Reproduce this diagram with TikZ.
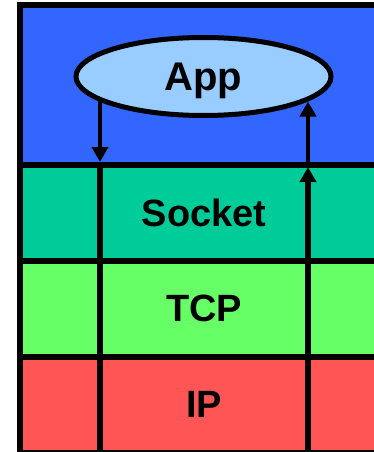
\documentclass[tikz,border=0pt]{standalone}
\usepackage{fontspec}
\setmainfont{Liberation Sans}
\usepackage{tikz}
\usetikzlibrary{arrows.meta}
\usetikzlibrary{shapes.geometric}
\definecolor{appblue}{RGB}{51,102,255}
\definecolor{applight}{RGB}{153,204,255}
\definecolor{sockgreen}{RGB}{0,204,153}
\definecolor{tcpgreen}{RGB}{102,255,102}
\definecolor{ipred}{RGB}{255,85,85}
\begin{document}
\begin{tikzpicture}[x=1pt, y=-1pt]
\tikzstyle{layer}=[draw, line width=6pt, minimum width=368pt, inner sep=0pt, font=\fontsize{38}{40}\selectfont\bfseries]
\tikzstyle{flow}=[line width=4.5pt, -{Triangle[width=16pt, length=15pt]}]
\useasboundingbox (0,0) rectangle (374,452);
\clip (0,0) rectangle (374,452);
\node[layer, fill=appblue, minimum height=160pt] (top) at (204,84.6) {};
\node[layer, fill=sockgreen, minimum height=96pt] (socket) at (204,212.5) {Socket};
\node[layer, fill=tcpgreen, minimum height=96.5pt] (tcp) at (204,308.75) {TCP};
\node[layer, fill=ipred, minimum height=95.5pt] (ip) at (204,404.75) {IP};
\node[draw, ellipse, line width=5pt, fill=applight, minimum width=255pt, minimum height=78pt, inner sep=0pt, text depth=0pt, font=\fontsize{40}{42}\selectfont\bfseries] (app) at (203.5,76.5) {App};
% points where the arrows meet the ellipse
\coordinate (downstart) at (100,100);
\coordinate (upend) at (308,101.5);
\coordinate (downend) at (100,162);
\coordinate (upstart) at (308,162);
\coordinate (lt) at (100,164.5);
\coordinate (lb) at (100,455);
\coordinate (rt) at (308,167);
\coordinate (rb) at (308,455);
\draw[flow] (downstart) -- (downend);
\draw[flow] (upstart) -- (upend);
\draw[line width=5.5pt] (lt) -- (lb);
\draw[flow, line width=5.5pt] (rb) -- (rt);
\end{tikzpicture}
\end{document}
